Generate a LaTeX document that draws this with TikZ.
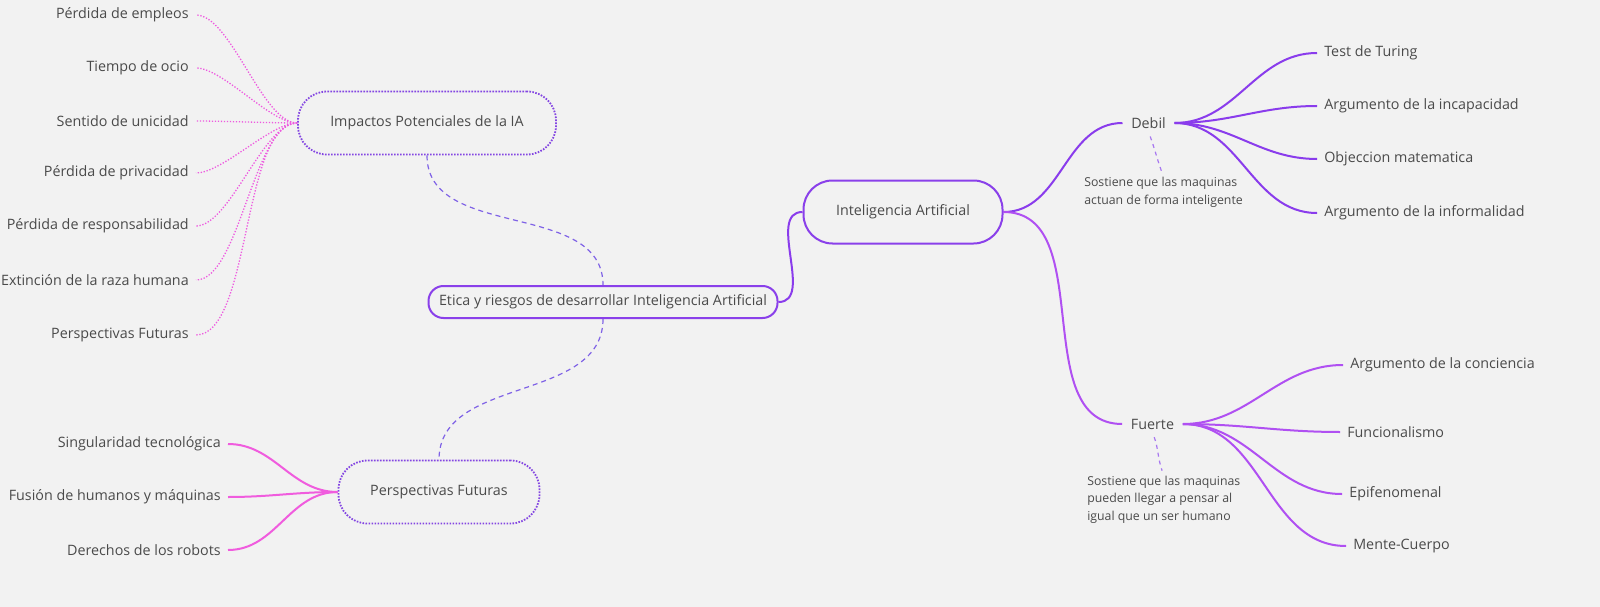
\documentclass[tikz,border=0pt]{standalone}
\usepackage{fontspec}
\setmainfont{Open Sans}
\usepackage{xcolor}
\usetikzlibrary{positioning}
\definecolor{bgcol}{HTML}{F2F2F2}
\definecolor{txtcol}{HTML}{4A4A4A}
\definecolor{boxcol}{HTML}{8A40EA}
\definecolor{dotbox}{HTML}{8446E2}
\definecolor{pinkdot}{HTML}{EE5AE0}
\definecolor{pinkline}{HTML}{F05CDE}
\definecolor{debcol}{HTML}{8A3CEC}
\definecolor{fuecol}{HTML}{B050F2}
\definecolor{dashcol}{HTML}{7F62E6}
\definecolor{notecol}{HTML}{A878F0}

\begin{document}
\begin{tikzpicture}[x=1pt,y=-1pt,>=stealth,semithick]
 \tikzstyle{txt}=[text=txtcol, font=\fontsize{14.3}{17}\selectfont]
 \tikzstyle{main}=[txt, draw=boxcol, line width=2pt, fill=bgcol, inner sep=0pt]
 \tikzstyle{dotmain}=[txt, draw=dotbox, line width=1.8pt, dash pattern=on 1.6pt off 1.4pt, fill=bgcol, inner sep=0pt]
 \tikzstyle{leaf}=[txt, inner xsep=7pt, inner ysep=3pt]
 \tikzstyle{note}=[text=txtcol, align=left, inner sep=0pt, font=\fontsize{12.3}{17.5}\selectfont]
 \tikzstyle{pinkdots}=[draw=pinkdot, line width=1.3pt, dash pattern=on 1.3pt off 1.7pt, out=0, in=180, looseness=0.6]
 \tikzstyle{pinksolid}=[draw=pinkline, line width=2pt, out=0, in=180]
 \tikzstyle{debline}=[draw=debcol, line width=2pt, out=0, in=180]
 \tikzstyle{fueline}=[draw=fuecol, line width=2pt, out=0, in=180]
 \tikzstyle{dashline}=[draw=dashcol, line width=1.2pt, dash pattern=on 5pt off 4pt]
 \tikzstyle{notedash}=[draw=notecol, line width=1.2pt, dash pattern=on 4pt off 4pt]

 \fill[bgcol] (0,0) rectangle (1600,607);
 \useasboundingbox (0,0) rectangle (1600,607);

 \node[main, minimum width=349pt, minimum height=32pt, rounded corners=15pt] (etica) at (603,302) {Etica y riesgos de desarrollar Inteligencia Artificial};
 \node[dotmain, minimum width=258pt, minimum height=63pt, rounded corners=29pt] (impactos) at (427,123) {Impactos Potenciales de la IA};
 \node[dotmain, minimum width=201pt, minimum height=63pt, rounded corners=29pt] (futuras) at (439,492) {Perspectivas Futuras};
 \node[main, minimum width=199pt, minimum height=63pt, rounded corners=29pt] (ia) at (903,212) {Inteligencia Artificial};

 \node[leaf, anchor=east] (empleos) at (196,15) {Pérdida de empleos};
 \node[leaf, anchor=east] (ocio) at (196,68) {Tiempo de ocio};
 \node[leaf, anchor=east] (unicidad) at (196,121) {Sentido de unicidad};
 \node[leaf, anchor=east] (privacidad) at (196,173) {Pérdida de privacidad};
 \node[leaf, anchor=east] (responsab) at (196,226) {Pérdida de responsabilidad};
 \node[leaf, anchor=east] (extincion) at (196,280) {Extinción de la raza humana};
 \node[leaf, anchor=east] (perspect) at (196,335) {Perspectivas Futuras};

 \node[leaf, anchor=east] (singular) at (228,444) {Singularidad tecnológica};
 \node[leaf, anchor=east] (fusion) at (228,497) {Fusión de humanos y máquinas};
 \node[leaf, anchor=east] (derechos) at (228,550) {Derechos de los robots};

 \node[leaf, inner xsep=8.5pt] (debil) at (1148.5,123) {Debil};
 \node[leaf, inner xsep=8.5pt] (fuerte) at (1152.5,424) {Fuerte};

 \node[leaf, anchor=west] (turing) at (1317,53) {Test de Turing};
 \node[leaf, anchor=west] (incapac) at (1317,106) {Argumento de la incapacidad};
 \node[leaf, anchor=west] (objeccion) at (1317,159) {Objeccion matematica};
 \node[leaf, anchor=west] (informal) at (1317,213) {Argumento de la informalidad};

 \node[leaf, anchor=west] (conciencia) at (1343,365) {Argumento de la conciencia};
 \node[leaf, anchor=west] (funcional) at (1340,432) {Funcionalismo};
 \node[leaf, anchor=west] (epifeno) at (1342,494) {Epifenomenal};
 \node[leaf, anchor=west] (mente) at (1346,546) {Mente-Cuerpo};

 \node[note, anchor=base west] (dnote) at (1084,204) {Sostiene que las maquinas\\actuan de forma inteligente};
 \node[note, anchor=base west] (fnote) at (1087,520) {Sostiene que las maquinas\\pueden llegar a pensar al\\igual que un ser humano};

 \path
 (impactos.west) edge[pinkdots, out=180, in=0] (empleos.east)
 (impactos.west) edge[pinkdots, out=180, in=0] (ocio.east)
 (impactos.west) edge[pinkdots, out=180, in=0] (unicidad.east)
 (impactos.west) edge[pinkdots, out=180, in=0] (privacidad.east)
 (impactos.west) edge[pinkdots, out=180, in=0] (responsab.east)
 (impactos.west) edge[pinkdots, out=180, in=0] (extincion.east)
 (impactos.west) edge[pinkdots, out=180, in=0] (perspect.east);

 \path
 (singular.east) edge[pinksolid] (futuras.west)
 (fusion.east) edge[pinksolid] (futuras.west)
 (derechos.east) edge[pinksolid] (futuras.west);

 \path
 (impactos.south) edge[dashline, out=-90, in=90] (etica.north)
 (etica.south) edge[dashline, out=-90, in=90] (futuras.north);

 \path
 (etica.east) edge[debline] (ia.west)
 (ia.east) edge[debline] (debil.west)
 (ia.east) edge[fueline] (fuerte.west)
 (debil.east) edge[debline] (turing.west)
 (debil.east) edge[debline] (incapac.west)
 (debil.east) edge[debline] (objeccion.west)
 (debil.east) edge[debline] (informal.west)
 (fuerte.east) edge[fueline] (conciencia.west)
 (fuerte.east) edge[fueline] (funcional.west)
 (fuerte.east) edge[fueline] (epifeno.west)
 (fuerte.east) edge[fueline] (mente.west);

 \path
 (debil.south) edge[notedash, out=-70, in=110, shorten <=5pt, shorten >=4pt] (dnote.north)
 (fuerte.south) edge[notedash, out=-70, in=110, shorten <=5pt, shorten >=5pt] (fnote.north);
\end{tikzpicture}
\end{document}
